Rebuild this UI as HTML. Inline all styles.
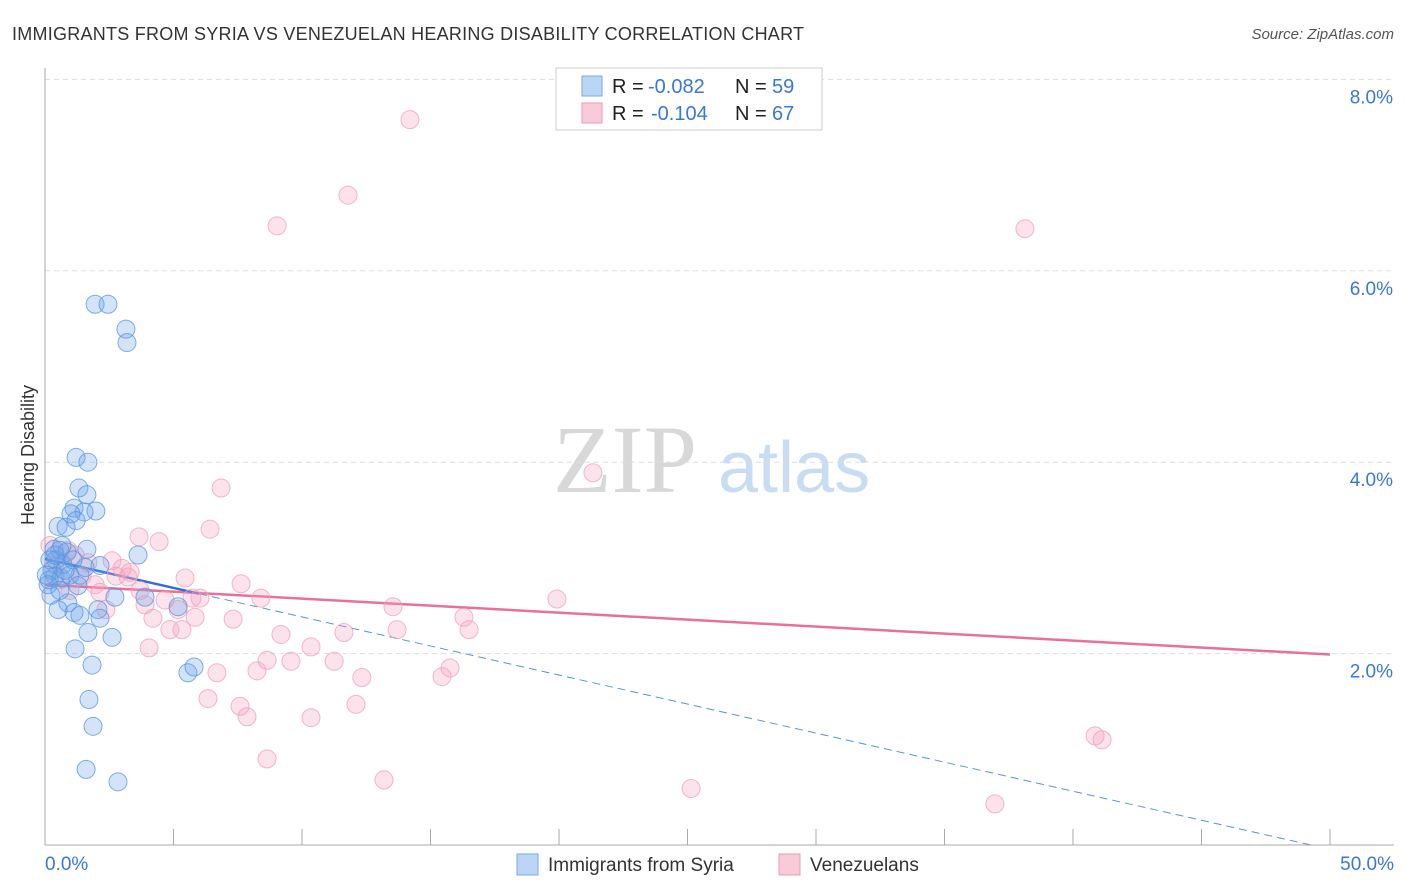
<!DOCTYPE html>
<html><head><meta charset="utf-8"><style>
body{margin:0;background:#fff;font-family:"Liberation Sans",sans-serif;}
svg{display:block}
</style></head><body>
<svg id="chart" width="1406" height="892">
<text x="12" y="40" font-size="18" fill="#333" textLength="792">IMMIGRANTS FROM SYRIA VS VENEZUELAN HEARING DISABILITY CORRELATION CHART</text>
<text x="1394" y="39" font-size="15" fill="#555" font-style="italic" text-anchor="end">Source: ZipAtlas.com</text>
<text x="34" y="455" font-size="18" fill="#333" text-anchor="middle" transform="rotate(-90 34 455)">Hearing Disability</text>
<g><text x="553" y="492" font-family="Liberation Serif,serif" font-size="96" fill="#d8d8d8">ZIP</text><text x="718" y="492" font-size="72" fill="#c8dcf2">atlas</text></g>
<g id="grid"></g><g id="axes"></g><g id="trends"></g><g id="pts"></g>
<g>
<rect x="556" y="68" width="266" height="62" fill="#fff" stroke="#ccc"/>
<rect x="582" y="76" width="20" height="20" fill="#bcd5f5" stroke="#7aa9e6"/>
<text x="612" y="93" font-size="20" fill="#222">R =</text>
<text x="648" y="93" font-size="20" fill="#3a78d8">-0.082</text>
<text x="735" y="93" font-size="20" fill="#222">N =</text>
<text x="772" y="93" font-size="20" fill="#3a78d8">59</text>
<rect x="582" y="103" width="20" height="20" fill="#f9cad8" stroke="#ee9bb7"/>
<text x="612" y="120" font-size="20" fill="#222">R =</text>
<text x="651" y="120" font-size="20" fill="#3a78d8">-0.104</text>
<text x="735" y="120" font-size="20" fill="#222">N =</text>
<text x="772" y="120" font-size="20" fill="#3a78d8">67</text>
</g>
<g>
<rect x="517" y="854" width="21" height="21" fill="#bcd5f5" stroke="#7aa9e6"/>
<text x="548" y="871" font-size="19" fill="#333">Immigrants from Syria</text>
<rect x="779" y="854" width="21" height="21" fill="#f9cad8" stroke="#ee9bb7"/>
<text x="810" y="871" font-size="19" fill="#333">Venezuelans</text>
</g>
</svg>
<script>
const yTicks=[2,4,6,8];
const xTickLabels=["0.0%","50.0%"];
const syriaX=[1.95,2.45,3.15,3.19,1.21,1.67,1.32,1.63,1.13,1.98,1.52,1.01,0.51,0.82,1.21,0.35,0.58,0.86,0.43,0.70,0.27,0.39,0.62,0.16,0.97,1.36,1.56,2.14,3.62,1.63,1.28,0.23,0.89,1.13,0.51,2.06,2.14,2.72,3.89,1.36,1.67,2.61,1.17,1.83,5.18,5.56,5.80,1.71,1.87,1.60,2.84,0.19,0.05,0.12,0.58,0.78,0.39,1.09,0.66];
const syriaY=[5.65,5.65,5.39,5.25,4.05,4.00,3.73,3.66,3.52,3.49,3.48,3.46,3.33,3.32,3.39,3.09,3.08,3.06,2.98,2.93,2.87,2.81,2.79,2.77,2.82,2.82,2.90,2.92,3.03,3.09,2.71,2.61,2.53,2.43,2.46,2.46,2.37,2.59,2.59,2.40,2.22,2.17,2.05,1.88,2.49,1.80,1.86,1.52,1.24,0.79,0.66,2.98,2.82,2.72,2.66,2.87,3.03,2.98,3.13];
const venX=[14.2,11.79,9.03,38.13,21.32,6.85,6.42,3.66,4.44,0.19,0.89,1.67,2.61,3.00,3.31,2.76,3.23,1.44,5.45,7.63,8.40,2.14,2.37,3.89,4.67,5.72,6.03,19.92,13.54,16.30,4.20,5.18,5.84,7.32,4.86,5.33,16.50,13.70,11.63,9.18,10.35,4.05,8.64,9.57,11.25,8.25,6.69,15.76,15.45,12.33,6.34,7.59,12.10,7.86,10.35,40.86,41.13,8.64,13.19,25.14,36.96,0.58,0.39,1.17,1.95,3.70,0.97];
const venY=[7.58,6.79,6.47,6.44,3.89,3.73,3.30,3.22,3.17,3.13,3.08,2.95,2.97,2.89,2.85,2.81,2.80,2.81,2.79,2.73,2.58,2.64,2.46,2.51,2.56,2.58,2.58,2.57,2.49,2.38,2.37,2.46,2.38,2.36,2.25,2.25,2.25,2.25,2.22,2.20,2.07,2.06,1.93,1.92,1.92,1.82,1.80,1.85,1.76,1.75,1.53,1.45,1.47,1.34,1.33,1.14,1.10,0.90,0.68,0.59,0.43,2.77,2.93,3.03,2.72,2.66,2.66];
const syriaTrend=[2.99,-0.0607];
const venTrend=[2.72,-0.0146];
const NS="http://www.w3.org/2000/svg";
const xs=v=>45+v*25.7, ys=v=>845-v*95.7;
function mk(tag,attrs,parent){const e=document.createElementNS(NS,tag);for(const k in attrs)e.setAttribute(k,attrs[k]);document.getElementById(parent).appendChild(e);return e;}
yTicks.forEach(t=>{
 const l=mk('line',{x1:45,x2:1394,y1:ys(t),y2:ys(t),stroke:'#ddd','stroke-dasharray':'5,4'},'grid');
 
 
 const tx=mk('text',{x:1393,y:ys(t)+24,'font-size':19,fill:'#3a78d8','text-anchor':'end'},'grid');
 tx.textContent=t.toFixed(1)+'%';
 
 
});
const ax=mk('line',{x1:45,x2:45,y1:68,y2:845,stroke:'#aaa'},'axes');


const bx=mk('line',{x1:45,x2:1394,y1:845,y2:845,stroke:'#aaa'},'axes');


for(let i=0;i<=10;i++){const t=mk('line',{x1:xs(i*5),x2:xs(i*5),y1:829,y2:845,stroke:'#aaa'},'axes');
 
 }
[[0,'start'],[50,'end']].forEach((p,i)=>{const t=mk('text',{x:i?1394:45,y:870,'font-size':19,fill:'#3a78d8','text-anchor':p[1]},'axes');t.textContent=xTickLabels[i];
 
 });
function pts(X,Y,fill,stroke,name){X.forEach((x,i)=>{const c=mk('circle',{cx:xs(x),cy:ys(Y[i]),r:9,fill:fill,stroke:stroke,'stroke-width':1,'stroke-opacity':0.75},'pts');
 
 });}
pts(venX,venY,'rgba(244,160,188,0.3)','#eda0ba','venezuelans-point');
pts(syriaX,syriaY,'rgba(110,165,235,0.3)','#5a92de','syria-point');
let l=mk('line',{x1:xs(0),y1:ys(venTrend[0]),x2:xs(50),y2:ys(venTrend[0]+venTrend[1]*50),stroke:'#e8709a','stroke-width':2.5},'trends');


const xe=-syriaTrend[0]/syriaTrend[1];
l=mk('line',{x1:xs(6),y1:ys(syriaTrend[0]+syriaTrend[1]*6),x2:xs(xe),y2:ys(0),stroke:'#5a92de','stroke-width':1,'stroke-dasharray':'8,5'},'trends');


l=mk('line',{x1:xs(0),y1:ys(syriaTrend[0]),x2:xs(6),y2:ys(syriaTrend[0]+syriaTrend[1]*6),stroke:'#2f6fd6','stroke-width':2.5},'trends');


</script>
</body></html>
